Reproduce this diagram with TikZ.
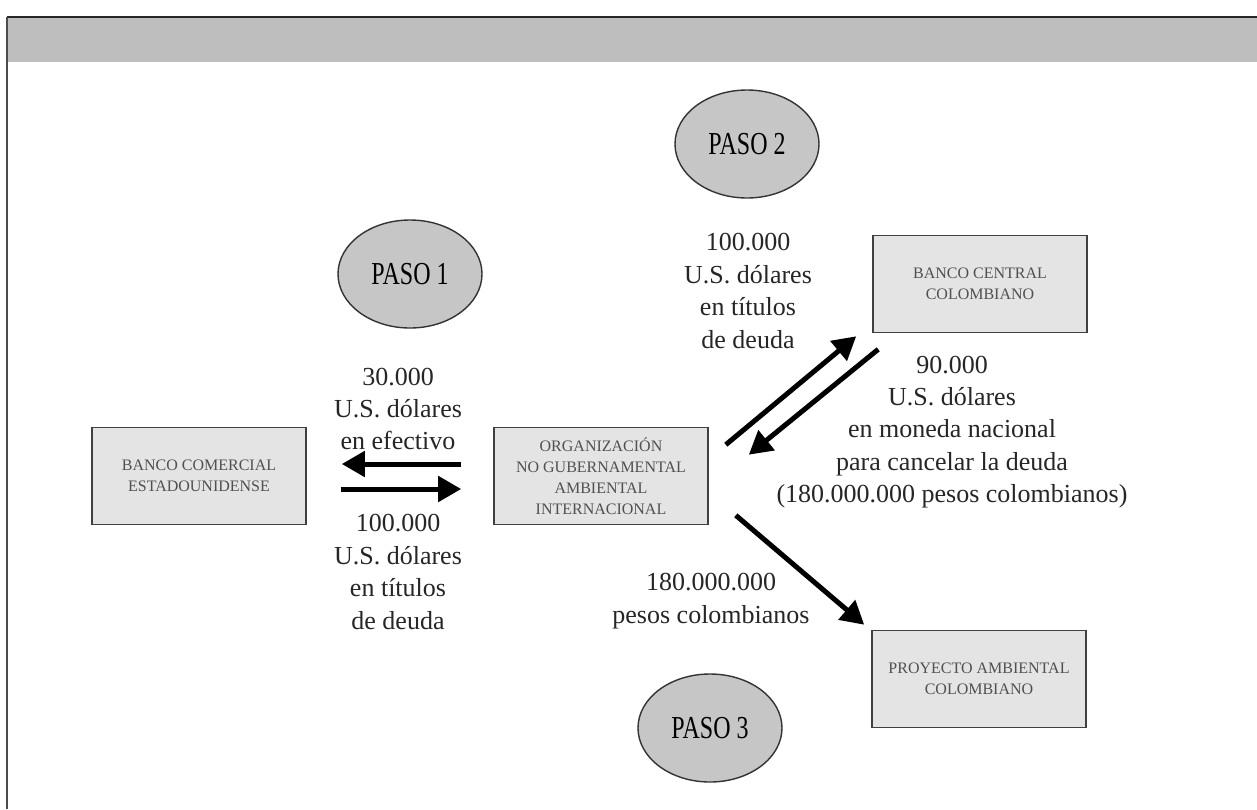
\documentclass[tikz,border=0pt]{standalone}
\usepackage{fontspec}
\setmainfont{Liberation Serif}
\usetikzlibrary{arrows.meta,calc,shapes.geometric}

\definecolor{bandgray}{RGB}{190,190,190}
\definecolor{pasogray}{RGB}{198,198,198}
\definecolor{boxgray}{RGB}{228,228,228}
\definecolor{boxtext}{RGB}{80,80,80}

\tikzset{
  box/.style={shape=rectangle, draw=black!75, line width=0.8pt, fill=boxgray,
              text=boxtext, minimum width=107pt, minimum height=48.5pt,
              inner sep=0pt, align=center, font=\fontsize{8}{10.5}\selectfont},
  paso/.style={shape=ellipse, draw=black!80, line width=0.7pt, fill=pasogray,
               minimum width=72pt, minimum height=54pt, inner sep=0pt,
               font=\fontsize{16}{16}\selectfont},
  lbl/.style={align=center, text=black!85, font=\fontsize{13}{16.2}\selectfont},
  flow/.style={line width=2.5pt, -{Triangle[length=11.5pt,width=12.5pt]}}
}

\begin{document}
\begin{tikzpicture}[x=0.5pt,y=-0.5pt]

  \useasboundingbox (0,0) rectangle (1257,809);

  % frame and top band
  \fill [bandgray] (7,17) rectangle (1257,62);
  \draw [black!85, line width=1pt] (7,17) -- (1257,17);
  \draw [black!70, line width=0.7pt] (7,17) -- (7,809);

  \node (bcom) at (199,476) [box] {BANCO COMERCIAL\\ESTADOUNIDENSE};
  \node (org)  at (601,476) [box] {ORGANIZACIÓN\\NO GUBERNAMENTAL\\AMBIENTAL\\INTERNACIONAL};
  \node (cent) at (980,284) [box] {BANCO CENTRAL\\COLOMBIANO};
  \node (proy) at (979,679) [box] {PROYECTO AMBIENTAL\\COLOMBIANO};

  \node (paso1) at (410,274) [paso] {\scalebox{0.75}[1]{PASO 1}};
  \node (paso2) at (747,144) [paso] {\scalebox{0.75}[1]{PASO 2}};
  \node (paso3) at (710,728) [paso] {\scalebox{0.75}[1]{PASO 3}};

  \node (efec)  at (398,409) [lbl] {30.000\\U.S. dólares\\en efectivo};
  \node (tit1)  at (398,572) [lbl] {100.000\\U.S. dólares\\en títulos\\de deuda};
  \node (tit2)  at (748,291) [lbl] {100.000\\U.S. dólares\\en títulos\\de deuda};
  \node (mon)   at (952,432) [lbl] {90.000\\U.S. dólares\\en moneda nacional\\para cancelar la deuda\\(180.000.000 pesos colombianos)};
  \node (pesos) at (711,601) [lbl] {180.000.000\\pesos colombianos};

  \draw [flow] ($(org.west)+(-32,-12)$) -- ($(bcom.east)+(35,-12)$);
  \draw [flow] ($(bcom.east)+(34,13)$) -- ($(org.west)+(-32,13)$);
  \draw [flow] ($(org.north east)+(17,18)$) -- ($(cent.south west)+(-16,3)$);
  \draw [flow] ($(cent.south west)+(6,16)$) -- ($(org.north east)+(40,28)$);
  \draw [flow] ($(org.south east)+(27,-10)$) -- ($(proy.north west)+(-7,-5)$);

\end{tikzpicture}
\end{document}
